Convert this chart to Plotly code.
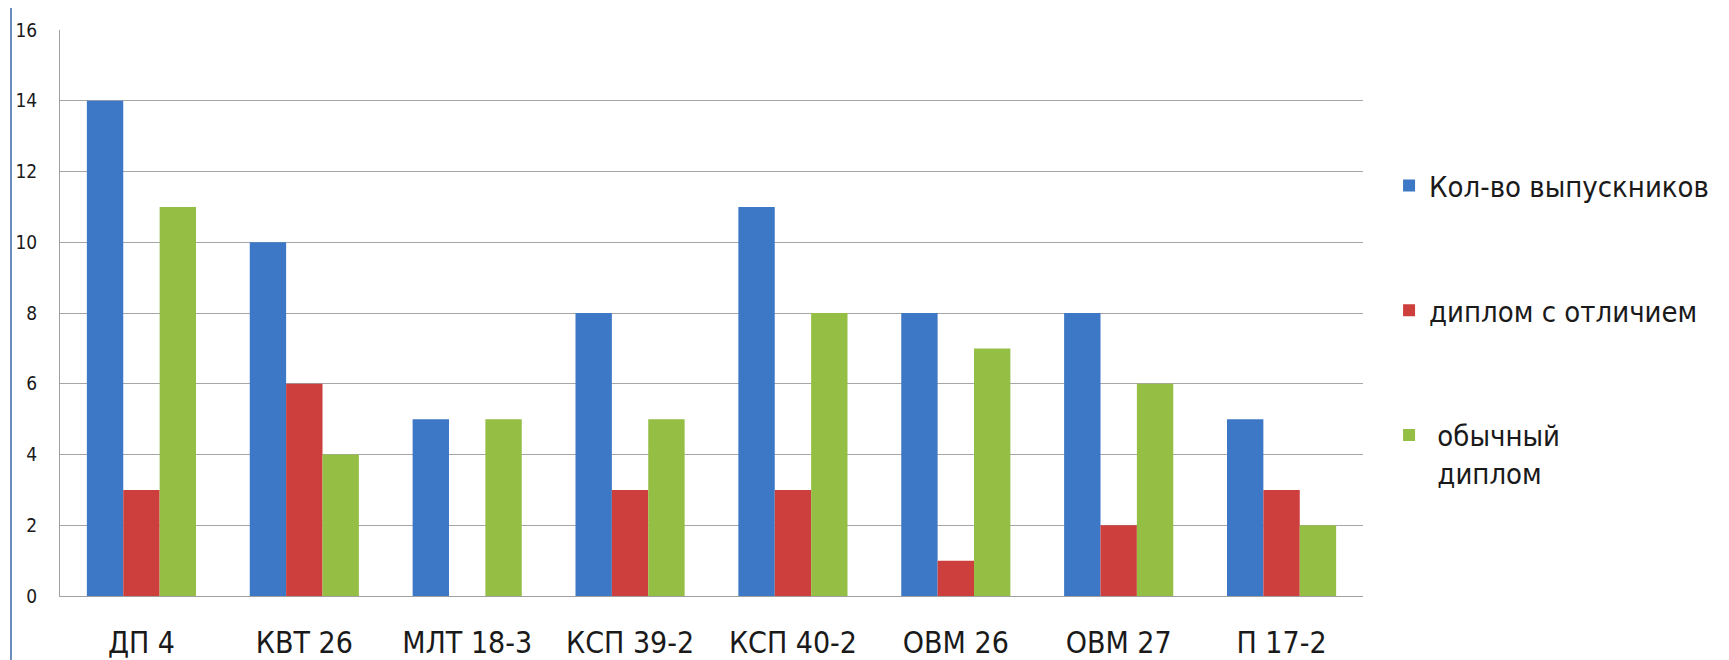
import plotly.graph_objects as go

categories = ["ДП 4", "КВТ 26", "МЛТ 18-3", "КСП 39-2", "КСП 40-2", "ОВМ 26", "ОВМ 27", "П 17-2"]
graduates = [14, 10, 5, 8, 11, 8, 8, 5]
honours = [3, 6, 0, 3, 3, 1, 2, 3]
regular = [11, 4, 5, 5, 8, 7, 6, 2]
series_names = ["Кол-во выпускников", "диплом с отличием", " обычный<br> диплом"]
y_ticks = [0, 2, 4, 6, 8, 10, 12, 14, 16]

FONT = "DejaVu Sans Condensed, Liberation Sans, sans-serif"
colors = ["#3C78C6", "#CC3F3D", "#94BE44"]

fig = go.Figure()
for i, (name, vals) in enumerate(zip(series_names, [graduates, honours, regular])):
    fig.add_trace(go.Bar(
        x=categories, y=vals, name=name, legendgroup=str(i),
        marker=dict(color=colors[i], line=dict(width=0)),
    ))

fig.update_layout(
    width=1729, height=660,
    margin=dict(l=52, r=374, t=22, b=72, autoexpand=False),
    paper_bgcolor="white", plot_bgcolor="white",
    barmode="group", bargap=0.33, bargroupgap=0,
    font=dict(family=FONT, color="#1a1a1a"),
    legend=dict(x=1.02, y=0.77, xanchor="left", yanchor="top",
                font=dict(size=29, family=FONT), tracegroupgap=84,
                itemwidth=30, valign="top"),
    xaxis=dict(tickfont=dict(size=30), showline=True, linecolor="#A0A0A0",
               ticks="", ticklabelstandoff=20, automargin=False),
    yaxis=dict(range=[0, 16], tickvals=y_ticks, tickfont=dict(size=19),
               showgrid=True, gridcolor="#A6A6A6", gridwidth=1,
               showline=True, linecolor="#A0A0A0", ticks="",
               zeroline=False, ticklabelstandoff=18, automargin=False),
    shapes=[dict(type="line", xref="paper", yref="paper", x0=-0.0376, x1=-0.0376,
                 y0=-0.2, y1=1.05, line=dict(color="#6C8EBF", width=2))],
)

fig.write_html("out.html")
